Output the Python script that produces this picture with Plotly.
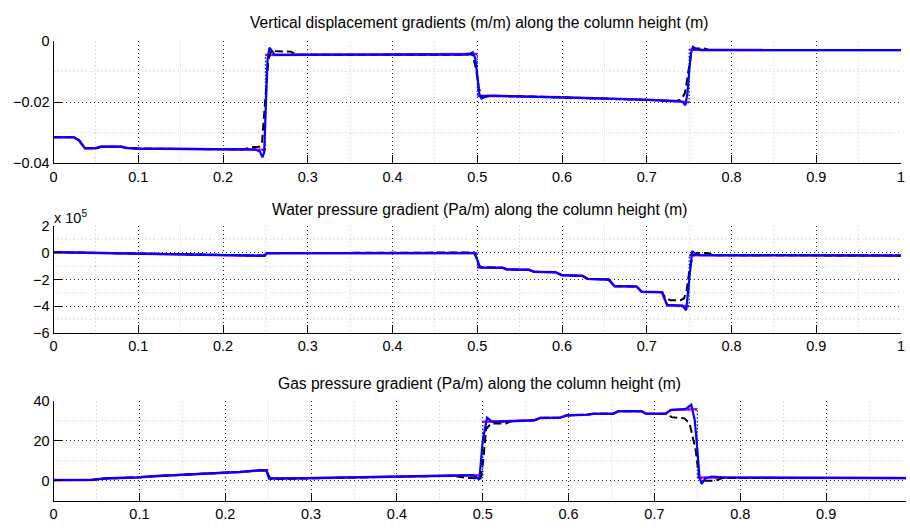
import plotly.graph_objects as go

# ---------------- data ----------------
# Panel 1: vertical displacement gradient (m/m)
disp_x_blue = [0, 0.024, 0.03, 0.037, 0.05, 0.056, 0.08, 0.086, 0.1, 0.2, 0.238, 0.2435, 0.2465, 0.2485,
               0.2505, 0.2525, 0.2548, 0.2575, 0.261, 0.27, 0.3, 0.48, 0.4895, 0.4945, 0.4975, 0.5, 0.5025,
               0.505, 0.508, 0.512, 0.52, 0.6, 0.7, 0.738, 0.7425, 0.7455, 0.748, 0.75, 0.752, 0.7545,
               0.7575, 0.762, 0.77, 1.0]
disp_blue = [-0.0315, -0.0315, -0.0325, -0.0351, -0.0351, -0.0346, -0.0346, -0.0350, -0.0352, -0.0355,
             -0.0355, -0.0362, -0.0381, -0.0365, -0.020, -0.006, -0.0021, -0.0033, -0.0045, -0.0045,
             -0.0044, -0.0044, -0.0044, -0.0036, -0.0055, -0.011, -0.0175, -0.0188, -0.0183, -0.0179,
             -0.0179, -0.0184, -0.0192, -0.0196, -0.0199, -0.0210, -0.017, -0.010, -0.004, -0.0018,
             -0.0024, -0.0029, -0.0029, -0.0029]
disp_x_black = [0, 0.024, 0.03, 0.037, 0.05, 0.056, 0.08, 0.086, 0.1, 0.2, 0.222, 0.236, 0.243, 0.246,
                0.2495, 0.2535, 0.257, 0.262, 0.28, 0.286, 0.3, 0.48, 0.49, 0.4945, 0.4985, 0.5015, 0.5045,
                0.508, 0.515, 0.52, 0.6, 0.7, 0.735, 0.741, 0.745, 0.749, 0.7525, 0.756, 0.768, 0.774, 1.0]
disp_black = [-0.0315, -0.0315, -0.0325, -0.0351, -0.0351, -0.0346, -0.0346, -0.0350, -0.0352, -0.0355,
              -0.0355, -0.0347, -0.0346, -0.033, -0.020, -0.006, -0.0032, -0.0032, -0.0034, -0.0044,
              -0.0044, -0.0044, -0.0041, -0.0045, -0.009, -0.015, -0.0178, -0.0181, -0.0181, -0.0179,
              -0.0184, -0.0192, -0.0196, -0.0190, -0.0170, -0.010, -0.004, -0.0024, -0.0024, -0.0029, -0.0029]
disp_x_step = [0, 0.024, 0.03, 0.037, 0.05, 0.056, 0.08, 0.086, 0.1, 0.2, 0.25, 0.25, 0.3, 0.495, 0.5,
               0.5, 0.51, 0.6, 0.7, 0.75, 0.75, 1.0]
disp_step = [-0.0315, -0.0315, -0.0325, -0.0351, -0.0351, -0.0346, -0.0346, -0.0350, -0.0352, -0.0355,
             -0.0356, -0.0045, -0.0044, -0.0042, -0.0042, -0.0180, -0.0179, -0.0184, -0.0192, -0.0200,
             -0.0028, -0.0029]

# Panel 2: water pressure gradient (x 10^5 Pa/m)
water_x_blue = [0, 0.05, 0.1, 0.15, 0.2, 0.245, 0.249, 0.252, 0.3, 0.4, 0.49, 0.497, 0.5, 0.503, 0.506,
                0.53, 0.535, 0.561, 0.567, 0.592, 0.6, 0.624, 0.63, 0.655, 0.662, 0.688, 0.694, 0.718,
                0.724, 0.742, 0.7465, 0.7485, 0.751, 0.7535, 0.757, 0.762, 1.0]
water_blue = [0.05, 0.0, -0.06, -0.12, -0.18, -0.22, -0.22, -0.02, -0.01, 0.0, 0.0, -0.02, -0.5, -1.05,
              -1.1, -1.12, -1.24, -1.27, -1.42, -1.45, -1.67, -1.72, -1.95, -2.0, -2.5, -2.52, -2.92,
              -2.95, -3.9, -3.95, -4.3, -3.0, -1.0, 0.14, -0.05, -0.17, -0.2]
water_x_black = [0, 0.05, 0.1, 0.15, 0.2, 0.245, 0.248, 0.254, 0.3, 0.4, 0.49, 0.496, 0.4985, 0.501,
                 0.504, 0.53, 0.535, 0.561, 0.567, 0.592, 0.6, 0.624, 0.63, 0.655, 0.662, 0.688, 0.694,
                 0.718, 0.722, 0.728, 0.74, 0.744, 0.747, 0.7505, 0.754, 0.759, 0.772, 0.778, 1.0]
water_black = [0.05, 0.0, -0.06, -0.12, -0.18, -0.22, -0.2, -0.02, -0.01, 0.0, 0.03, 0.03, -0.3, -0.85,
               -1.07, -1.12, -1.24, -1.27, -1.42, -1.45, -1.67, -1.72, -1.95, -2.0, -2.5, -2.52, -2.92,
               -2.95, -3.4, -3.55, -3.55, -3.4, -2.8, -1.2, -0.3, 0.0, 0.0, -0.17, -0.2]
water_x_step = [0, 0.05, 0.1, 0.15, 0.2, 0.25, 0.25, 0.3, 0.4, 0.5, 0.5, 0.53, 0.535, 0.561, 0.567,
                0.592, 0.6, 0.624, 0.63, 0.655, 0.662, 0.688, 0.694, 0.718, 0.724, 0.75, 0.75, 1.0]
water_step = [0.05, 0.0, -0.06, -0.12, -0.18, -0.22, -0.02, -0.01, 0.0, 0.0, -1.1, -1.12, -1.24, -1.27,
              -1.42, -1.45, -1.67, -1.72, -1.95, -2.0, -2.5, -2.52, -2.92, -2.95, -3.95, -4.0, -0.17, -0.2]

# Panel 3: gas pressure gradient (Pa/m)
gas_x_blue = [0, 0.0435, 0.06, 0.097, 0.117, 0.144, 0.164, 0.197, 0.2175, 0.241, 0.2477, 0.251, 0.278,
              0.345, 0.412, 0.465, 0.489, 0.496, 0.5, 0.505, 0.5115, 0.529, 0.56, 0.567, 0.59, 0.598,
              0.621, 0.629, 0.652, 0.658, 0.685, 0.69, 0.713, 0.719, 0.7365, 0.743, 0.747, 0.75, 0.7525,
              0.755, 0.7595, 0.767, 0.783, 1.0]
gas_blue = [0.3, 0.33, 1.14, 1.63, 2.28, 2.76, 3.25, 3.9, 4.39, 5.2, 5.2, 1.14, 1.14, 1.63, 2.1, 2.5, 2.8,
            0.5, 20.0, 31.5, 29.4, 29.7, 30.2, 31.4, 31.5, 32.7, 33.0, 33.5, 33.5, 34.8, 34.8, 33.5,
            33.5, 35.4, 35.9, 38.0, 30.2, 15.5, 1.7, -1.6, 1.2, 2.1, 1.6, 1.3]
gas_x_black = [0, 0.0435, 0.06, 0.097, 0.117, 0.144, 0.164, 0.197, 0.2175, 0.241, 0.2477, 0.253, 0.278,
               0.345, 0.412, 0.465, 0.482, 0.4975, 0.5005, 0.504, 0.5096, 0.527, 0.533, 0.56, 0.567, 0.59,
               0.598, 0.621, 0.629, 0.652, 0.658, 0.685, 0.69, 0.7155, 0.72, 0.735, 0.741, 0.748, 0.752,
               0.7558, 0.771, 0.779, 1.0]
gas_black = [0.3, 0.33, 1.14, 1.63, 2.28, 2.76, 3.25, 3.9, 4.39, 5.2, 5.0, 0.8, 1.0, 1.63, 2.1, 2.5, 1.3,
             1.2, 10.0, 26.0, 28.6, 28.6, 29.8, 30.2, 31.4, 31.5, 32.7, 33.0, 33.5, 33.5, 34.8, 34.8,
             33.5, 33.5, 31.8, 31.2, 28.6, 15.5, 1.7, 0.0, 0.0, 1.3, 1.3]
gas_x_step = [0, 0.0435, 0.06, 0.097, 0.117, 0.144, 0.164, 0.197, 0.2175, 0.241, 0.25, 0.25, 0.278, 0.345,
              0.412, 0.465, 0.5, 0.5, 0.529, 0.56, 0.567, 0.59, 0.598, 0.621, 0.629, 0.652, 0.658, 0.685,
              0.69, 0.713, 0.719, 0.75, 0.75, 0.783, 1.0]
gas_step = [0.3, 0.33, 1.14, 1.63, 2.28, 2.76, 3.25, 3.9, 4.39, 5.2, 5.2, 1.14, 1.14, 1.63, 2.1, 2.5, 2.7,
            29.5, 29.7, 30.2, 31.4, 31.5, 32.7, 33.0, 33.5, 33.5, 34.8, 34.8, 33.5, 33.5, 35.4, 35.8, 1.6,
            1.6, 1.3]

titles = ["Vertical displacement gradients (m/m) along the column height (m)",
          "Water pressure gradient (Pa/m) along the column height (m)",
          "Gas pressure gradient (Pa/m) along the column height (m)"]

panels = [
    (disp_x_step, disp_step, disp_x_black, disp_black, disp_x_blue, disp_blue),
    (water_x_step, water_step, water_x_black, water_black, water_x_blue, water_blue),
    (gas_x_step, gas_step, gas_x_black, gas_black, gas_x_blue, gas_blue),
]


def split_at_jumps(xs, ys):
    """Break the element-wise (discontinuous) curve where the abscissa repeats."""
    ox, oy = [], []
    for k, (a, b) in enumerate(zip(xs, ys)):
        if k > 0 and a == xs[k - 1]:
            ox.append(None)
            oy.append(None)
        ox.append(a)
        oy.append(b)
    return ox, oy


# ---------------- figure ----------------
W, H = 910, 530
FONT = "Liberation Sans, Arial, Helvetica, sans-serif"
fig = go.Figure()

for i, (xs, ys, xk, yk, xb, yb) in enumerate(panels):
    ax = "" if i == 0 else str(i + 1)
    common = dict(xaxis="x" + ax, yaxis="y" + ax, mode="lines", hoverinfo="skip", showlegend=False)
    mx, my = split_at_jumps(xs, ys)
    fig.add_trace(go.Scatter(x=mx, y=my, line=dict(color="#ff00ff", width=2.5), connectgaps=False, **common))
    fig.add_trace(go.Scatter(x=xs, y=ys, line=dict(color="#0000ff", width=1.2, dash="1.5px,2px"), **common))
    fig.add_trace(go.Scatter(x=xk, y=yk, line=dict(color="black", width=2, dash="8px,4px"), **common))
    fig.add_trace(go.Scatter(x=xb, y=yb, line=dict(color="#0000ff", width=2.2), **common))


def px_x(p):
    return p / W


def px_y(p):
    return 1 - p / H


grid_major = dict(showgrid=True, gridcolor="#222222", gridwidth=1, griddash="1px,3px")
minor_cfg = dict(showgrid=True, gridcolor="#c8c8c8", gridwidth=1, griddash="1px,3px", ticks="")

base_axis = dict(showline=True, linecolor="black", linewidth=1, mirror=False, ticks="inside",
                 ticklen=8, tickcolor="black", tickwidth=1, zeroline=False,
                 tickfont=dict(family=FONT, size=14.5, color="black"), **grid_major)

x_top_dom = [px_x(50), px_x(905)]
x_bot_dom = [px_x(50), 1.0]

layout = dict(width=W, height=H, margin=dict(l=0, r=0, t=0, b=0),
              paper_bgcolor="white", plot_bgcolor="white", showlegend=False)

# panel 1
layout["xaxis"] = dict(base_axis, domain=x_top_dom, range=[0, 1], dtick=0.1, tick0=0,
                       minor=dict(minor_cfg, dtick=0.05), anchor="y")
layout["yaxis"] = dict(base_axis, domain=[px_y(160), px_y(34.3)], range=[-0.04, 0], dtick=0.02, tick0=0,
                       minor=dict(minor_cfg, dtick=0.01), anchor="x")
# panel 2
layout["xaxis2"] = dict(base_axis, domain=x_top_dom, range=[0, 1], dtick=0.1, tick0=0,
                        minor=dict(minor_cfg, dtick=0.05), anchor="y2")
layout["yaxis2"] = dict(base_axis, domain=[px_y(335), px_y(225)], range=[-6, 2], dtick=2, tick0=0,
                        minor=dict(minor_cfg, dtick=1), anchor="x2")
# panel 3
layout["xaxis3"] = dict(base_axis, domain=x_bot_dom, range=[0, 860 / 866], dtick=0.1, tick0=0,
                        minor=dict(minor_cfg, dtick=0.05), anchor="y3")
layout["yaxis3"] = dict(base_axis, domain=[px_y(508), px_y(405)], range=[-10, 40], dtick=20, tick0=0,
                        minor=dict(minor_cfg, dtick=10), anchor="x3")

fig.update_layout(**layout)

title_y = [15, 208, 387]
for t, ty in zip(titles, title_y):
    fig.add_annotation(text=t, xref="paper", yref="paper", x=px_x(480), y=px_y(ty),
                       xanchor="center", yanchor="middle", showarrow=False,
                       font=dict(family=FONT, size=15.6, color="black"))

fig.add_annotation(text="x 10<sup>5</sup>", xref="paper", yref="paper", x=px_x(48), y=px_y(216),
                   xanchor="left", yanchor="middle", showarrow=False,
                   font=dict(family=FONT, size=14.5, color="black"))

fig.write_html("out.html")
